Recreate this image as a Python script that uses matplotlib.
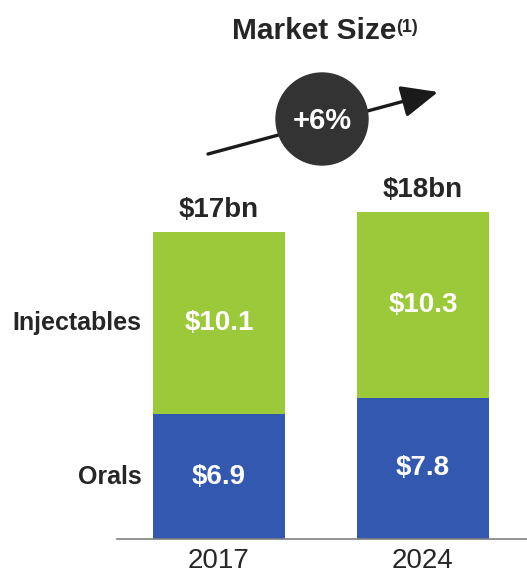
import matplotlib
matplotlib.use("Agg")
import matplotlib.pyplot as plt
from matplotlib.patches import Circle, FancyArrowPatch

plt.rcParams["font.family"] = ["Liberation Sans", "DejaVu Sans"]

years = ["2017", "2024"]
orals = [6.9, 7.8]
injectables = [10.1, 10.3]
totals = ["$17bn", "$18bn"]
segments = ["Orals", "Injectables"]
cagr = "+6%"

green = "#9bc93a"
blue = "#3258b0"
dark = "#262626"

W, H = 527, 579
fig = plt.figure(figsize=(W / 100, H / 100), dpi=100)

# bar axes: baseline at 539px, axis line from 117px to the right edge
ax = fig.add_axes([117 / W, (H - 539) / H, 410 / W, 539 / H])
x = range(len(years))
bw = 0.647
ax.bar(x, orals, width=bw, color=blue, zorder=2)
ax.bar(x, injectables, width=bw, bottom=orals, color=green, zorder=2)
ax.set_xlim(-0.5, 1.51)
ax.set_ylim(0, 29.8)

for i in x:
    ax.text(i, orals[i] / 2, f"${orals[i]}", color="white", fontsize=20,
            fontweight="bold", ha="center", va="center", zorder=3)
    ax.text(i, orals[i] + injectables[i] / 2, f"${injectables[i]}", color="white",
            fontsize=20, fontweight="bold", ha="center", va="center", zorder=3)
    ax.text(i, orals[i] + injectables[i] + 1.2, totals[i], color=dark, fontsize=20,
            fontweight="bold", ha="center", va="center")
    ax.text(i, -1.2, years[i], color=dark, fontsize=20, ha="center", va="center")

# segment names beside the first bar
ax.text(-0.38, orals[0] / 2, segments[0], color=dark, fontsize=18,
        fontweight="bold", ha="right", va="center")
ax.text(-0.38, orals[0] + injectables[0] / 2, segments[1], color=dark, fontsize=18,
        fontweight="bold", ha="right", va="center")

for s in ["top", "right", "left"]:
    ax.spines[s].set_visible(False)
ax.spines["bottom"].set_color("#808080")
ax.spines["bottom"].set_linewidth(1.2)
ax.set_xticks([])
ax.set_yticks([])
ax.patch.set_alpha(0)

# overlay in pixel coordinates for title and growth badge
ov = fig.add_axes([0, 0, 1, 1])
ov.set_xlim(0, W)
ov.set_ylim(H, 0)
ov.axis("off")
ov.patch.set_alpha(0)

ov.text(232, 31, "Market Size", color=dark, fontsize=21.5, fontweight="bold",
        ha="left", va="center")
ov.text(396, 27, "(1)", color=dark, fontsize=13, fontweight="bold",
        ha="left", va="center")

arrow = FancyArrowPatch((208, 154), (438, 92), arrowstyle="-|>,head_length=1.6,head_width=0.7",
                        mutation_scale=14, color="#1a1a1a", lw=2.4, shrinkA=0, shrinkB=0)
ov.add_patch(arrow)
ov.add_patch(Circle((322, 119), 46, color="#333333", zorder=5))
ov.text(322, 121, cagr, color="white", fontsize=21, fontweight="bold",
        ha="center", va="center", zorder=6)

fig.savefig("out.png", dpi=100)
